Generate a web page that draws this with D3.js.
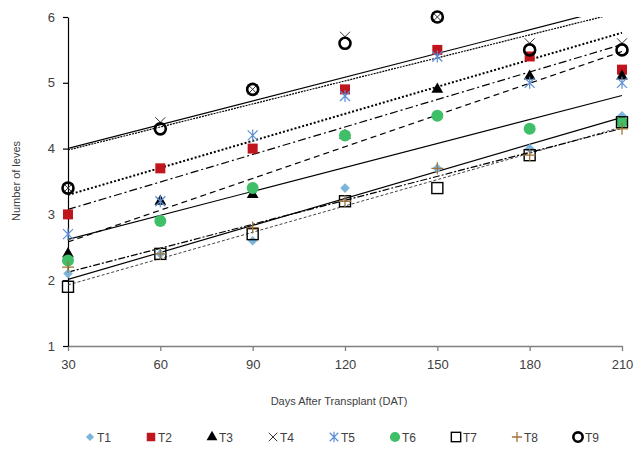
<!DOCTYPE html>
<html lang="en">
<head>
<meta charset="UTF-8">
<title>Number of leves</title>
<script src="https://d3js.org/d3.v7.min.js"></script>
<style>
  body { margin: 0; background: #fff; }
  svg text { font-family: "Liberation Sans", Arial, sans-serif; fill: #404040; }
</style>
</head>
<body>
<div id="chart"></div>
<script>
// days after transplant
var days = [30, 60, 90, 120, 150, 180, 210];
var seriesNames = ["T1", "T2", "T3", "T4", "T5", "T6", "T7", "T8", "T9"];

// number of leaves
var t1 = [2.1, 2.4, 2.6, 3.4, 3.7, 4.0, 4.5];
var t2 = [3.0, 3.7, 4.0, 4.9, 5.5, 5.4, 5.2];
var t3 = [2.4, 3.2, 3.3, 4.2, 4.9, 5.1, 5.1];
var t4 = [3.4, 4.4, 4.9, 5.7, 6.0, 5.6, 5.6];
var t5 = [2.7, 3.2, 4.2, 4.8, 5.4, 5.0, 5.0];
var t6 = [2.3, 2.9, 3.4, 4.2, 4.5, 4.3, 4.4];
var t7 = [1.9, 2.4, 2.7, 3.2, 3.4, 3.9, 4.4];
var t8 = [2.2, 2.4, 2.8, 3.2, 3.7, 3.9, 4.3];
var t9 = [3.4, 4.3, 4.9, 5.6, 6.0, 5.5, 5.5];

var yTicks = [1, 2, 3, 4, 5, 6];

var allValues = [t1, t2, t3, t4, t5, t6, t7, t8, t9];

// marker look + trendline dash for each series
var styles = [
  {shape: "diamond", fill: "#7cb5dc", stroke: "none", dash: null, lw: 1.2},
  {shape: "square", fill: "#c0151d", stroke: "none", dash: "2,2", lw: 2},
  {shape: "triangle", fill: "#000", stroke: "none", dash: "6,4", lw: 1.2},
  {shape: "x", fill: "none", stroke: "#333", dash: null, lw: 1.2},
  {shape: "star", fill: "none", stroke: "#5b8fd6", dash: "8,3,2,3", lw: 1.2},
  {shape: "circle", fill: "#3fbf68", stroke: "none", dash: null, lw: 1.2},
  {shape: "opensquare", fill: "#fff", stroke: "#000", dash: "3,2", lw: 1},
  {shape: "plus", fill: "none", stroke: "#a0733a", dash: "7,2,2,2", lw: 1.2},
  {shape: "ring", fill: "none", stroke: "#000", dash: "2,1", lw: 1.2}
];

var w = 636, h = 449;
var svg = d3.select("#chart").append("svg").attr("width", w).attr("height", h);

var x = d3.scaleLinear().domain([30, 210]).range([68, 622]);
var y = d3.scaleLinear().domain([1, 6]).range([346, 17]);

svg.append("defs").append("clipPath").attr("id", "plotclip")
  .append("rect").attr("x", 68).attr("y", 17).attr("width", 560).attr("height", 329);

// axes
var xAxis = svg.append("g").attr("transform", "translate(0,346)")
  .call(d3.axisBottom(x).tickValues(days).tickSize(5).tickSizeOuter(0).tickPadding(9));
xAxis.selectAll("line, path").attr("stroke", "#808080").attr("stroke-width", 1.3);
xAxis.selectAll("text").style("font-size", "13px").attr("fill", "#404040");

var yAxis = svg.append("g").attr("transform", "translate(68,0)")
  .call(d3.axisLeft(y).tickValues(yTicks).tickFormat(d3.format("d")).tickSize(5).tickSizeOuter(0).tickPadding(8));
yAxis.selectAll("line, path").attr("stroke", "#000").attr("stroke-width", 1.2);
yAxis.selectAll("text").style("font-size", "13px").attr("fill", "#404040");

svg.append("text").attr("x", 339).attr("y", 405).attr("text-anchor", "middle")
  .style("font-size", "11px").text("Days After Transplant  (DAT)");
svg.append("text").attr("transform", "translate(20,181) rotate(-90)").attr("text-anchor", "middle")
  .style("font-size", "11px").text("Number of leves");

// linear trendlines (least squares, like excel)
function fit(vals) {
  var mx = d3.mean(days), my = d3.mean(vals);
  var sxy = d3.sum(days, function(d, i) { return (d - mx) * (vals[i] - my); });
  var sxx = d3.sum(days, function(d) { return (d - mx) * (d - mx); });
  var b = sxy / sxx;
  return function(t) { return my + b * (t - mx); };
}

var trends = svg.append("g").attr("clip-path", "url(#plotclip)");
allValues.forEach(function(vals, i) {
  var f = fit(vals);
  trends.append("line")
    .attr("x1", x(30)).attr("y1", y(f(30)))
    .attr("x2", x(210)).attr("y2", y(f(210)))
    .attr("stroke", i == 6 ? "#444" : "#000")
    .attr("stroke-width", styles[i].lw)
    .attr("stroke-dasharray", styles[i].dash);
});

function drawMarker(g, st, cx, cy, s) {
  s = s || 1;
  if (st.shape == "diamond") {
    var d = 4.8 * s;
    g.append("path").attr("d", "M" + cx + "," + (cy - d) + "L" + (cx + d) + "," + cy + "L" + cx + "," + (cy + d) + "L" + (cx - d) + "," + cy + "Z")
      .attr("fill", st.fill);
  } else if (st.shape == "square") {
    g.append("rect").attr("x", cx - 5 * s).attr("y", cy - 5 * s).attr("width", 10 * s).attr("height", 10 * s).attr("fill", st.fill);
  } else if (st.shape == "triangle") {
    g.append("path").attr("d", d3.symbol(d3.symbolTriangle, 60 * s)())
      .attr("transform", "translate(" + cx + "," + cy + ")").attr("fill", st.fill);
  } else if (st.shape == "x") {
    var r = 5 * s;
    g.append("path").attr("d", "M" + (cx - r) + "," + (cy - r) + "L" + (cx + r) + "," + (cy + r) + "M" + (cx - r) + "," + (cy + r) + "L" + (cx + r) + "," + (cy - r))
      .attr("stroke", st.stroke).attr("stroke-width", 1).attr("fill", "none");
  } else if (st.shape == "star") {
    var r2 = 5 * s;
    g.append("path").attr("d", "M" + (cx - r2) + "," + (cy - r2) + "L" + (cx + r2) + "," + (cy + r2) + "M" + (cx - r2) + "," + (cy + r2) + "L" + (cx + r2) + "," + (cy - r2) + "M" + cx + "," + (cy - r2 - 1) + "L" + cx + "," + (cy + r2 + 1))
      .attr("stroke", st.stroke).attr("stroke-width", 1.2).attr("fill", "none");
  } else if (st.shape == "circle") {
    g.append("circle").attr("cx", cx).attr("cy", cy).attr("r", 6 * s).attr("fill", st.fill);
  } else if (st.shape == "opensquare") {
    g.append("rect").attr("x", cx - 5.5 * s).attr("y", cy - 5.5 * s).attr("width", 11 * s).attr("height", 11 * s)
      .attr("fill", "none").attr("stroke", st.stroke).attr("stroke-width", 1.4);
  } else if (st.shape == "plus") {
    var r3 = 6 * s;
    g.append("path").attr("d", "M" + (cx - r3) + "," + cy + "L" + (cx + r3) + "," + cy + "M" + cx + "," + (cy - r3) + "L" + cx + "," + (cy + r3))
      .attr("stroke", st.stroke).attr("stroke-width", 1.3).attr("fill", "none");
  } else if (st.shape == "ring") {
    g.append("circle").attr("cx", cx).attr("cy", cy).attr("r", 5.5 * s)
      .attr("fill", "none").attr("stroke", st.stroke).attr("stroke-width", 2.6);
  }
}

// markers
var pts = svg.append("g");
allValues.forEach(function(vals, i) {
  var g = pts.append("g");
  vals.forEach(function(v, j) {
    drawMarker(g, styles[i], x(days[j]), y(v));
  });
});

// legend
var legendX = d3.scalePoint().domain(seriesNames).range([90, 578]);
var legend = svg.append("g");
seriesNames.forEach(function(name, i) {
  var lx = legendX(name);
  drawMarker(legend, styles[i], lx, 437, 0.85);
  legend.append("text").attr("x", lx + 7).attr("y", 441.5).style("font-size", "12px").text(name);
});
</script>
</body>
</html>
